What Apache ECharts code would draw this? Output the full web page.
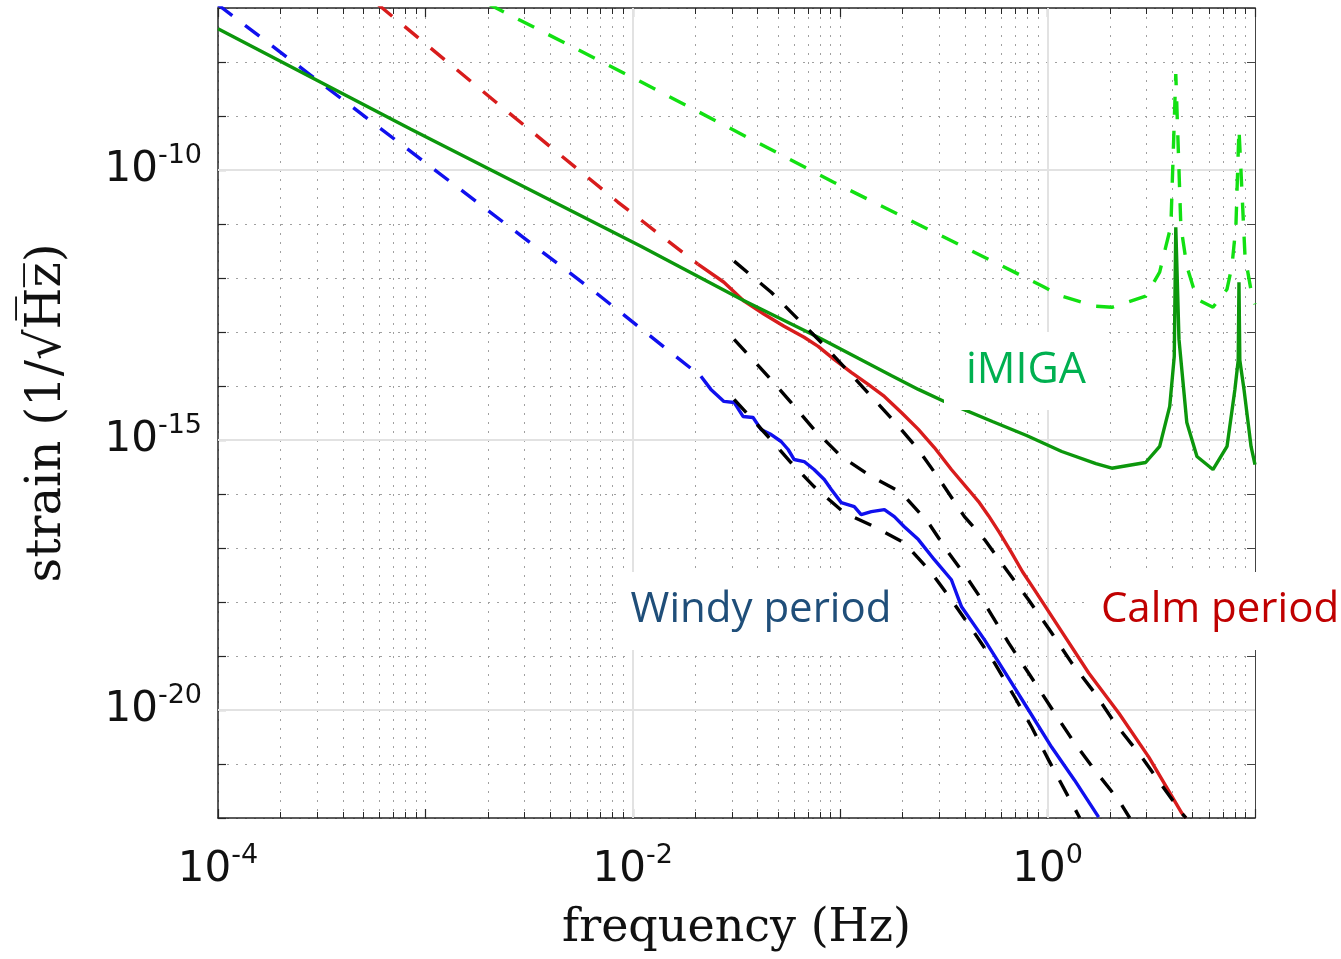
<!DOCTYPE html>
<html>
<head>
<meta charset="utf-8">
<title>strain sensitivity</title>
<script src="https://cdn.jsdelivr.net/npm/echarts@6/dist/echarts.min.js"></script>
<style>
  html, body { margin: 0; padding: 0; background: #fff; }
  #chart { width: 1341px; height: 959px; }
</style>
</head>
<body>
<div id="chart"></div>
<script>
// values: frequency in Hz, strain in 1/sqrt(Hz)

// iMIGA, solid green
const imigaFreq = [1e-4, 8.47e-4, 0.01094, 0.0333, 0.0783, 0.1222, 0.1762, 0.2382, 0.3177, 0.542, 0.792, 1.17, 1.71, 2.04, 2.97, 3.47, 3.88, 4.08, 4.15, 4.30, 4.69, 5.25, 6.27, 7.33, 8.0, 8.30, 8.37, 8.45, 8.85, 9.57, 10];
const imigaStrain = [4.13e-8, 5.77e-10, 3.89e-12, 4.05e-13, 7.98e-14, 3.25e-14, 1.57e-14, 8.65e-15, 5.18e-15, 2.20e-15, 1.21e-15, 6.12e-16, 3.66e-16, 3.0e-16, 3.83e-16, 7.6e-16, 4.19e-15, 3.5e-14, 8.7e-12, 7.3e-14, 2.11e-15, 4.94e-16, 2.84e-16, 7.6e-16, 8.65e-15, 3e-14, 8.35e-13, 3e-14, 8.65e-15, 7.6e-16, 3.5e-16];

// light green dashed
const imigaDashFreq = [2.0e-3, 0.01094, 0.0925, 0.946, 1.17, 1.71, 2.04, 2.97, 3.47, 3.72, 3.93, 4.15, 4.39, 4.69, 5.25, 6.27, 7.33, 7.74, 8.09, 8.37, 8.95, 9.68, 10];
const imigaDashStrain = [1.2e-7, 4.3e-9, 6.0e-11, 7.05e-13, 4.6e-13, 3.0e-13, 2.87e-13, 4.6e-13, 1.28e-12, 3.89e-12, 9.1e-12, 6.0e-9, 9.1e-12, 1.66e-12, 4.05e-13, 2.87e-13, 6.2e-13, 1.66e-12, 9.1e-12, 5.8e-10, 2.54e-12, 4.6e-13, 3.27e-13];

// calm period: red dashed (low f) then red solid
const calmLowFreq = [5.93e-4, 2.30e-3, 8.47e-3, 0.0206];
const calmLowStrain = [1.15e-7, 1.54e-9, 2.55e-11, 1.80e-12];
const calmFreq = [0.0206, 0.0275, 0.0344, 0.0430, 0.0536, 0.0670, 0.0783, 0.0935, 0.113, 0.1365, 0.1633, 0.1972, 0.2382, 0.2844, 0.3436, 0.415, 0.4645, 0.5188, 0.586, 0.6699, 0.757, 0.865, 1.13, 1.578, 2.203, 3.076, 4.436, 4.65];
const calmStrain = [1.80e-12, 8.35e-13, 3.72e-13, 2.13e-13, 1.28e-13, 7.98e-14, 5.43e-14, 3.12e-14, 1.79e-14, 1.07e-14, 6.41e-15, 3.24e-15, 1.57e-15, 7.26e-16, 2.84e-16, 1.21e-16, 7.23e-17, 3.97e-17, 1.92e-17, 8.18e-18, 3.63e-18, 1.68e-18, 3.47e-19, 4.85e-20, 8.79e-21, 1.34e-21, 1.23e-22, 1.0e-22];

// windy period: blue dashed then blue solid
const windyLowFreq = [1.0e-4, 2.78e-4, 6.78e-3, 0.0213];
const windyLowStrain = [1.15e-7, 5.8e-9, 5.0e-13, 1.51e-14];
const windyFreq = [0.0213, 0.0238, 0.0275, 0.0308, 0.034, 0.038, 0.0415, 0.0465, 0.0519, 0.0561, 0.06, 0.067, 0.0748, 0.0838, 0.0906, 0.1012, 0.1169, 0.1262, 0.1413, 0.1633, 0.1824, 0.2037, 0.2382, 0.2844, 0.3436, 0.3846, 0.4966, 0.5998, 0.8091, 1.045, 1.349, 1.762];
const windyStrain = [1.51e-14, 8.65e-15, 5.18e-15, 4.96e-15, 2.73e-15, 2.61e-15, 1.57e-15, 1.26e-15, 9.38e-16, 6.67e-16, 4.35e-16, 3.99e-16, 2.84e-16, 1.85e-16, 1.21e-16, 6.92e-17, 5.83e-17, 4.15e-17, 4.71e-17, 5.14e-17, 3.81e-17, 2.48e-17, 1.43e-17, 6.07e-18, 2.58e-18, 8.15e-19, 1.99e-19, 6.28e-20, 1.0e-20, 2.06e-21, 5.02e-22, 1.04e-22];

// black dashed curves
const blackAFreq = [0.0308, 0.0465, 0.0627, 0.0809, 0.1094, 0.1413, 0.1824, 0.2382, 0.2972, 0.3972, 0.4966, 0.6486, 0.8091, 1.045, 1.306, 1.687, 2.109, 2.845, 4.436, 4.65];
const blackAStrain = [2.05e-12, 5.46e-13, 1.72e-13, 6.44e-14, 1.87e-14, 6.41e-15, 2.20e-15, 6.67e-16, 2.0e-16, 3.81e-17, 1.43e-17, 3.48e-18, 1.10e-18, 2.69e-19, 7.45e-20, 2.07e-20, 5.74e-21, 1.34e-21, 1.23e-22, 1.0e-22];
const blackBFreq = [0.0308, 0.0449, 0.0579, 0.0748, 0.1012, 0.1413, 0.1972, 0.2661, 0.3327, 0.415, 0.5188, 0.6486, 0.8091, 1.081, 1.349, 1.687, 2.203, 2.49];
const blackBStrain = [7.32e-14, 1.51e-14, 4.96e-15, 1.57e-15, 4.94e-16, 2.10e-16, 1.06e-16, 2.94e-17, 8.18e-18, 2.58e-18, 7.17e-19, 1.75e-19, 4.85e-20, 8.79e-21, 2.44e-21, 7.71e-22, 2.14e-22, 1.0e-22];
const blackCFreq = [0.0308, 0.0449, 0.0579, 0.0748, 0.1045, 0.1459, 0.2037, 0.2754, 0.3436, 0.4436, 0.5546, 0.6934, 0.8375, 1.012, 1.262, 1.43];
const blackCStrain = [5.64e-15, 1.16e-15, 3.83e-16, 1.37e-16, 4.52e-17, 2.48e-17, 1.25e-17, 3.48e-18, 1.10e-18, 2.69e-19, 7.45e-20, 1.74e-20, 4.84e-21, 1.18e-21, 2.43e-22, 1.0e-22];

// decades that carry a tick label (powers of ten)
const xLabelPowers = [-4, -2, 0];
const yLabelPowers = [-20, -15, -10];

// y is drawn on a value axis of log10(strain), the strain values are too small for the log scale rounding
const pairs = (fs, hs) => fs.map((f, i) => [f, Math.log10(hs[i])]);

const dotted = {color: '#a0a0a0', width: 1, type: [2, 7]};
const frame = {color: '#262626', width: 1.5};
const labelRich = {
  b: {fontFamily: 'DejaVu Sans', fontSize: 42, lineHeight: 56, color: '#111'},
  s: {fontFamily: 'DejaVu Sans', fontSize: 27, lineHeight: 26, verticalAlign: 'top', color: '#111'}
};
const powLabel = (p) => '{b|10}{s|' + p + '}';

function curve(name, fs, hs, color, dashed) {
  return {
    name: name,
    type: 'line',
    data: pairs(fs, hs),
    showSymbol: false,
    silent: true,
    animation: false,
    lineStyle: {color: color, width: 3.4, type: dashed ? [18, 16] : 'solid'}
  };
}

// solid major grid at the labelled decades
const majorLines = xLabelPowers.filter(p => p > -4).map(p => ({xAxis: Math.pow(10, p)}))
  .concat(yLabelPowers.map(p => ({yAxis: p})));

let imigaDashed = curve('iMIGA goal', imigaDashFreq, imigaDashStrain, '#12e012', true);
imigaDashed.markLine = {
  silent: true, symbol: 'none', z: 1, animation: false,
  label: {show: false},
  lineStyle: {color: '#e2e2e2', width: 2, type: 'solid'},
  data: majorLines
};

let myChart = echarts.init(document.getElementById('chart'));
let option = {
  backgroundColor: '#fff',
  animation: false,
  grid: {left: 218, right: 86, top: 8, bottom: 141, outerBoundsMode: 'none'},
  xAxis: [{
    type: 'log', logBase: 10, min: 1e-4, max: 10, position: 'bottom',
    axisLine: {show: true, onZero: false, lineStyle: frame},
    axisTick: {show: true, inside: true, length: 9, lineStyle: {color: '#262626', width: 1.2}},
    minorTick: {show: true, splitNumber: 9, length: 6, lineStyle: {color: '#262626', width: 1}},
    axisLabel: {
      margin: 24, rich: labelRich,
      formatter: (v) => {
        let p = Math.round(Math.log10(v));
        return xLabelPowers.indexOf(p) >= 0 ? powLabel(p) : '';
      }
    },
    splitLine: {show: true, lineStyle: dotted},
    minorSplitLine: {show: true, lineStyle: dotted},
    name: 'frequency (Hz)', nameLocation: 'middle', nameGap: 88, nameMoveOverlap: false,
    nameTextStyle: {fontFamily: 'DejaVu Serif', fontSize: 46, color: '#111'}
  }, {
    type: 'log', logBase: 10, min: 1e-4, max: 10, position: 'top',
    axisLine: {show: true, onZero: false, lineStyle: frame},
    axisTick: {show: true, inside: true, length: 9, lineStyle: {color: '#262626', width: 1.2}},
    minorTick: {show: true, splitNumber: 9, length: 6, lineStyle: {color: '#262626', width: 1}},
    axisLabel: {show: false},
    splitLine: {show: false}
  }],
  yAxis: [{
    type: 'value', min: -22, max: -7, interval: 1, position: 'left',
    axisLine: {show: true, onZero: false, lineStyle: frame},
    axisTick: {show: true, inside: true, length: 8, lineStyle: {color: '#262626', width: 1.2}},
    axisLabel: {
      margin: 16, rich: labelRich,
      formatter: (v) => yLabelPowers.indexOf(v) >= 0 ? powLabel(v) : ''
    },
    splitLine: {show: true, lineStyle: dotted},
    name: 'strain (1/\u221AH\u0305z\u0305)', nameLocation: 'middle', nameGap: 146, nameMoveOverlap: false,
    nameTextStyle: {fontFamily: 'DejaVu Serif', fontSize: 48, color: '#111'}
  }, {
    type: 'value', min: -22, max: -7, interval: 1, position: 'right',
    axisLine: {show: true, onZero: false, lineStyle: {color: '#444', width: 1}},
    axisTick: {show: true, inside: true, length: 8, lineStyle: {color: '#444', width: 1}},
    axisLabel: {show: false},
    splitLine: {show: false}
  }],
  series: [
    imigaDashed,
    curve('calm low', calmLowFreq, calmLowStrain, '#d81c1c', true),
    curve('windy low', windyLowFreq, windyLowStrain, '#1010ee', true),
    curve('windy', windyFreq, windyStrain, '#1010ee', false),
    curve('calm', calmFreq, calmStrain, '#d81c1c', false),
    curve('iMIGA', imigaFreq, imigaStrain, '#0c970c', false),
    curve('model A', blackAFreq, blackAStrain, '#000', true),
    curve('model B', blackBFreq, blackBStrain, '#000', true),
    curve('model C', blackCFreq, blackCStrain, '#000', true)
  ],
  graphic: [
    {type: 'rect', z: 100, shape: {x: 944, y: 332, width: 164, height: 78}, style: {fill: '#fff'}},
    {type: 'text', z: 101, x: 1026, y: 371, style: {text: 'iMIGA', font: '43px "Open Sans"', fill: '#00b050', align: 'center', verticalAlign: 'middle'}},
    {type: 'rect', z: 100, shape: {x: 620, y: 572, width: 280, height: 78}, style: {fill: '#fff'}},
    {type: 'text', z: 101, x: 761, y: 610, style: {text: 'Windy period', font: '42px "Open Sans"', fill: '#1f4e79', align: 'center', verticalAlign: 'middle'}},
    {type: 'rect', z: 100, shape: {x: 1090, y: 572, width: 251, height: 78}, style: {fill: '#fff'}},
    {type: 'text', z: 101, x: 1220, y: 610, style: {text: 'Calm period', font: '42px "Open Sans"', fill: '#c00000', align: 'center', verticalAlign: 'middle'}}
  ]
};
myChart.setOption(option);
</script>
</body>
</html>
